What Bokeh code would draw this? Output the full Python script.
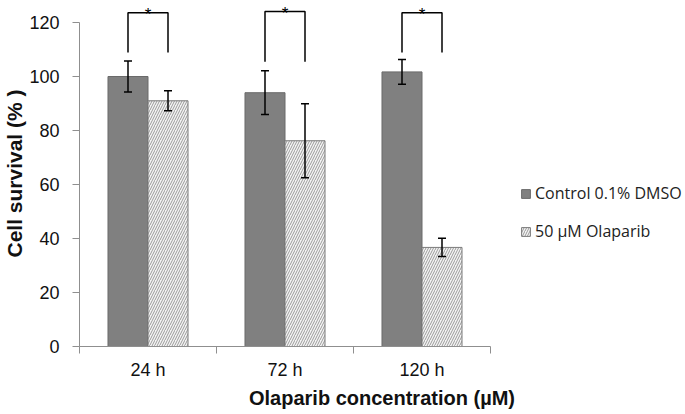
from bokeh.plotting import figure
from bokeh.models import (ColumnDataSource, Range1d, FixedTicker, Whisker, TeeHead,
                          Legend, LegendItem)
from bokeh.transform import dodge
from bokeh.core.properties import value
from bokeh.embed import file_html
from bokeh.resources import INLINE

# ---- data ----
categories = ["24 h", "72 h", "120 h"]
control = [100.0, 94.0, 101.7]
control_err = [5.7, 8.1, 4.6]
olaparib = [91.0, 76.2, 36.7]
olaparib_err = [3.7, 13.7, 3.4]
sig_top = [123.6, 124.1, 123.6]
sig_leg = [108.9, 105.5, 108.9]
sig_marks = ["*", "*", "*"]
y_ticks = [0, 20, 40, 60, 80, 100, 120]

BW = 0.292
OFF = BW / 2
N = len(categories)

centers = [i + 0.5 for i in range(N)]
src = ColumnDataSource(dict(
    x=centers,
    ctrl=control,
    ctrl_lo=[v - e for v, e in zip(control, control_err)],
    ctrl_hi=[v + e for v, e in zip(control, control_err)],
    ola=olaparib,
    ola_lo=[v - e for v, e in zip(olaparib, olaparib_err)],
    ola_hi=[v + e for v, e in zip(olaparib, olaparib_err)],
    top=sig_top,
    mark=sig_marks,
))

TICK_FONT = "Liberation Sans"
AXIS_GRAY = "#8f8f8f"

# frame spans the bar area plus a blank strip on the right that holds the legend
p = figure(frame_width=605, frame_height=346, output_backend="svg", toolbar_location=None,
           x_range=Range1d(0, N * 605 / 411), y_range=Range1d(0, 128.15),
           min_border_left=79, min_border_right=0, min_border_top=0,
           min_border_bottom=66)
p.outline_line_color = None
p.grid.visible = False
p.background_fill_color = "white"

r_ctrl = p.vbar(x=dodge("x", -OFF, range=p.x_range), top="ctrl", width=BW, source=src,
                fill_color="#808080", line_color="#6a6a6a", line_width=1)
r_ola = p.vbar(x=dodge("x", OFF, range=p.x_range), top="ola", width=BW, source=src,
               fill_color="#f4f4f4", line_color="#7a7a7a", line_width=1,
               hatch_pattern="/", hatch_color="#9a9a9a", hatch_scale=5, hatch_weight=1)

for lo, hi, off in (("ctrl_lo", "ctrl_hi", -OFF), ("ola_lo", "ola_hi", OFF)):
    w = Whisker(base=dodge("x", off, range=p.x_range), lower=lo, upper=hi, source=src,
                line_color="black", line_width=1.5, level="overlay",
                upper_head=TeeHead(size=8, line_color="black", line_width=1.5),
                lower_head=TeeHead(size=8, line_color="black", line_width=1.5))
    p.add_layout(w)

# significance brackets
bx, by = [], []
for c, t, l in zip(centers, sig_top, sig_leg):
    bx.append([c - OFF, c - OFF, c + OFF, c + OFF])
    by.append([l, t, t, l])
p.multi_line(xs=bx, ys=by, line_color="black", line_width=1.5)
p.text(x="x", y="top", text="mark", source=src, text_align="center",
       text_baseline="alphabetic", text_font=value(TICK_FONT), text_font_size="17px",
       text_color="black", y_offset=2)

# y axis
yax = p.yaxis[0]
yax.ticker = FixedTicker(ticks=y_ticks)
yax.bounds = (0, 120)
yax.axis_line_color = AXIS_GRAY
yax.major_tick_line_color = AXIS_GRAY
yax.major_tick_out = 7
yax.major_tick_in = 0
yax.minor_tick_line_color = None
yax.major_label_text_font = TICK_FONT
yax.major_label_text_font_size = "18px"
yax.major_label_text_color = "#111111"
yax.major_label_standoff = 13
yax.axis_label = "Cell survival (% )"
yax.axis_label_text_font = TICK_FONT
yax.axis_label_text_font_style = "bold"
yax.axis_label_text_font_size = "21px"
yax.axis_label_text_color = "#111111"
yax.axis_label_standoff = 0

# x axis
xax = p.xaxis[0]
xax.bounds = (0, N)
xax.ticker = FixedTicker(ticks=centers, minor_ticks=list(range(N + 1)))
xax.major_label_overrides = {c: lab for c, lab in zip(centers, categories)}
xax.axis_line_color = AXIS_GRAY
xax.major_tick_line_color = None
xax.major_tick_out = 0
xax.major_tick_in = 0
xax.minor_tick_line_color = AXIS_GRAY
xax.minor_tick_out = 7
xax.minor_tick_in = 0
xax.major_label_text_font = TICK_FONT
xax.major_label_text_font_size = "18px"
xax.major_label_text_color = "#111111"
xax.major_label_standoff = 6
xax.axis_label = "Olaparib concentration (µM)"
xax.axis_label_text_font = TICK_FONT
xax.axis_label_text_font_style = "bold"
xax.axis_label_text_font_size = "20px"
xax.axis_label_text_color = "#111111"
xax.axis_label_standoff = 4

legend = Legend(items=[LegendItem(label="Control 0.1% DMSO", renderers=[r_ctrl]),
                       LegendItem(label="50 µM Olaparib", renderers=[r_ola])],
                location=(441, 104), orientation="vertical",
                label_text_font="Open Sans", label_text_font_size="16px",
                label_text_color="#222222",
                glyph_width=11, glyph_height=11, label_standoff=4,
                label_height=20, spacing=16, padding=0, margin=0,
                border_line_color=None, background_fill_alpha=0)
p.add_layout(legend)

open("out.html", "w").write(file_html(p, INLINE))
